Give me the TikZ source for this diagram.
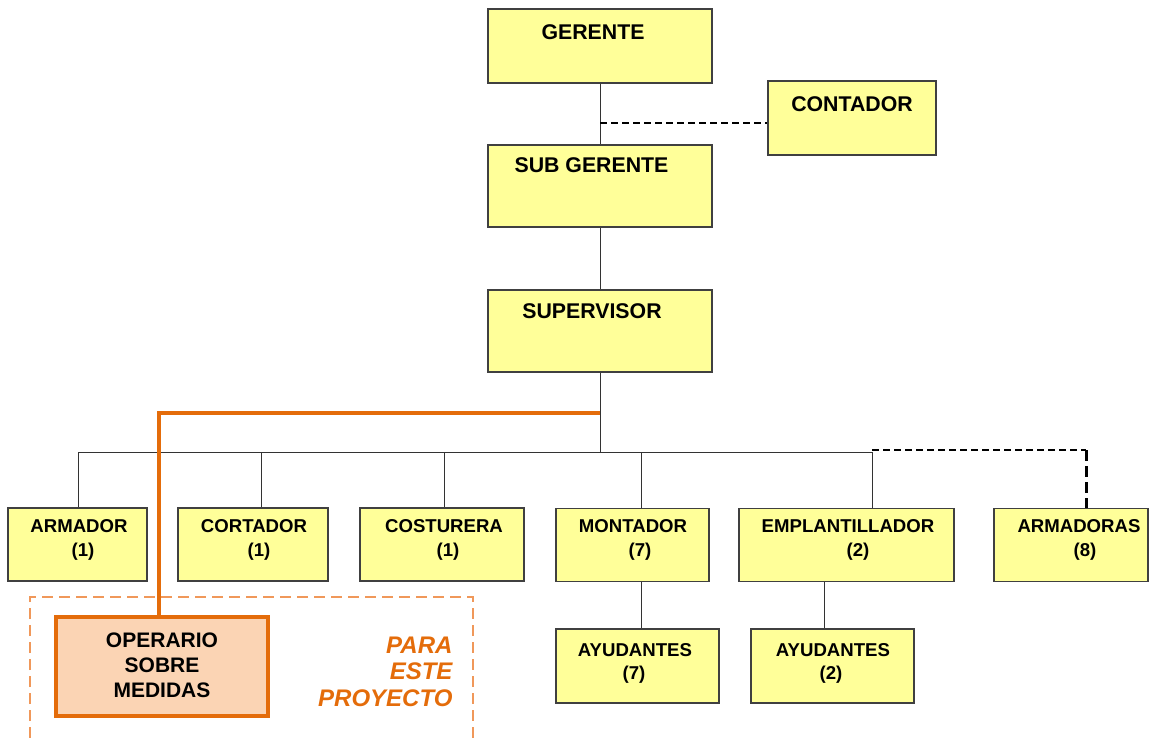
\documentclass[tikz,border=0pt]{standalone}
\usepackage{fontspec}
\setmainfont{Liberation Sans}
\definecolor{boxfill}{HTML}{FFFF99}
\definecolor{boxline}{HTML}{404040}
\definecolor{orgline}{HTML}{E46C0A}
\definecolor{orgfill}{HTML}{FBD4B4}
\definecolor{orgdash}{HTML}{F0985A}
\tikzset{
  box/.style={draw=boxline, line width=1.2pt, fill=boxfill, minimum width=#1, inner sep=0pt},
  big/.style={font=\fontsize{21.3}{25}\selectfont\bfseries},
  small/.style={font=\fontsize{18.6}{22}\selectfont\bfseries},
  link/.style={draw=black!80, line width=1pt},
  dotlink/.style={draw=black, line width=2.6pt, dash pattern=on 7pt off 4pt},
  dotlinkv/.style={draw=black, line width=3pt, dash pattern=on 11pt off 5pt},
}
\begin{document}
\begin{tikzpicture}[x=1pt,y=-1pt]
\useasboundingbox (0,0) rectangle (1150,738);
% boxes
\node[box=224pt, minimum height=74pt] (ger) at (600,46) {};
\node[box=168pt, minimum height=74pt] (cont) at (852,118) {};
\node[box=224pt, minimum height=82pt] (sub) at (600,186) {};
\node[box=224pt, minimum height=82pt] (sup) at (600,331) {};
\node[box=139pt, minimum height=73pt] (arm) at (77.5,544.5) {};
\node[box=150pt, minimum height=73pt] (cor) at (253,544.5) {};
\node[box=164pt, minimum height=73pt] (cos) at (442,544.5) {};
\node[box=153pt, minimum height=73pt] (mon) at (632.5,545) {};
\node[box=215pt, minimum height=73pt] (emp) at (846.5,545) {};
\node[box=154pt, minimum height=73pt] (arms) at (1071,545) {};
\node[box=163pt, minimum height=74pt] (ay7) at (637.5,666) {};
\node[box=163pt, minimum height=74pt] (ay2) at (832.5,666) {};
\node[draw=orgline, line width=4.5pt, fill=orgfill, minimum width=212pt, minimum height=99pt, inner sep=0pt] (op) at (162,666.5) {};
% texts
\node[big] (tger) at (593,32) {GERENTE};
\node[big] (tcont) at (852,104) {CONTADOR};
\node[big] (tsub) at (591.5,165) {SUB GERENTE};
\node[big] (tsup) at (592,311) {SUPERVISOR};
\node[small] (tarm) at (79,526) {ARMADOR};
\node[small] (tarm2) at (83,552) {(1)};
\node[small] (tcor) at (254,526) {CORTADOR};
\node[small] (tcor2) at (259,552) {(1)};
\node[small] (tcos) at (444,526) {COSTURERA};
\node[small] (tcos2) at (448,552) {(1)};
\node[small] (tmon) at (633,526) {MONTADOR};
\node[small] (tmon2) at (640,552) {(7)};
\node[small] (temp) at (848,526) {EMPLANTILLADOR};
\node[small] (temp2) at (858,552) {(2)};
\node[small] (tarms) at (1079,526) {ARMADORAS};
\node[small] (tarms2) at (1085,552) {(8)};
\node[small] (tay7) at (635,650) {AYUDANTES};
\node[small] (tay72) at (634,675) {(7)};
\node[small] (tay2) at (833,650) {AYUDANTES};
\node[small] (tay22) at (831,675) {(2)};
\node[align=center, font=\fontsize{21}{25}\selectfont\bfseries] (top) at (162,665) {OPERARIO\\SOBRE\\MEDIDAS};
\node[font=\fontsize{24}{26.5}\selectfont\bfseries\itshape, text=orgline, align=right, anchor=east] (para) at (456,671.5) {PARA\\ESTE\\PROYECTO};
% coordinates
\coordinate (c1) at (600,123);
\coordinate (j1) at (600,413);
\coordinate (hub) at (600,452);
\coordinate (e1) at (872,450);
% connectors
\draw[link] (ger.south) -- (sub.north);
\draw[link] (sub.south) -- (sup.north);
\draw[link] (sup.south) -- (hub);
\draw[dotlink] (c1) -- (c1 -| cont.west);
\draw[link] (hub) -| ([xshift=0.5pt]arm.north);
\draw[link] (hub) -| ([xshift=8pt]cor.north);
\draw[link] (hub) -| ([xshift=2pt]cos.north);
\draw[link] (hub) -| ([xshift=8.5pt]mon.north);
\draw[link] (hub) -| ([xshift=25.5pt]emp.north);
\draw[dotlink] (e1) -- ([xshift=15pt]e1 -| arms.north);
\draw[dotlinkv] ([xshift=15pt]e1 -| arms.north) -- ([xshift=15pt]arms.north);
\draw[link] ([xshift=8.5pt]mon.south) -- ([xshift=3.5pt]ay7.north);
\draw[link] ([xshift=-22.5pt]emp.south) -- ([xshift=-8.5pt]ay2.north);
\draw[draw=orgline, line width=4.5pt] (j1) -| ([xshift=-3pt]op.north);
% dashed frame
\draw[draw=orgdash, line width=1.5pt, dash pattern=on 11pt off 6pt] (30,738) -- (30,597) -- (473,597) -- (473,738);
\end{tikzpicture}
\end{document}
